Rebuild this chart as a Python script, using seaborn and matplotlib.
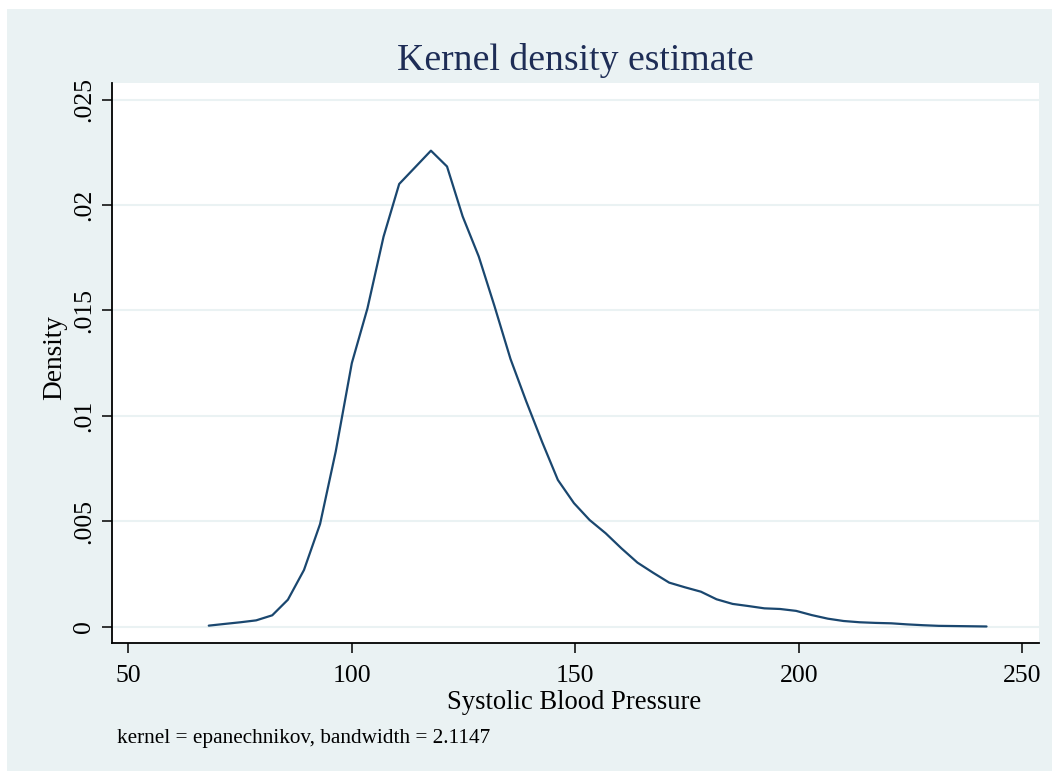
import numpy as np
import pandas as pd
import seaborn as sns
import matplotlib
matplotlib.use("Agg")
import matplotlib.pyplot as plt
from matplotlib.patches import Rectangle

# Evaluation points of the kernel density estimate (mmHg)
sbp = [68.0, 71.5, 75.1, 78.6, 82.2, 85.7, 89.3, 92.9, 96.4, 100.0,
       103.5, 107.1, 110.6, 114.2, 117.7, 121.3, 124.8, 128.4, 131.9, 135.5,
       139.0, 142.6, 146.1, 149.7, 153.2, 156.8, 160.3, 163.9, 167.4, 171.0,
       174.5, 178.1, 181.6, 185.2, 188.7, 192.3, 195.8, 199.4, 202.9, 206.5,
       210.0, 213.6, 217.1, 220.7, 224.2, 227.8, 231.3, 234.9, 238.4, 242.0]

# Estimated density at each point
density = [0.00005, 0.00013, 0.00021, 0.00030, 0.00054, 0.00128, 0.00269, 0.00487, 0.00831, 0.01250,
           0.01510, 0.01850, 0.02100, 0.02180, 0.02258, 0.02183, 0.01946, 0.01756, 0.01522, 0.01270,
           0.01070, 0.00875, 0.00696, 0.00586, 0.00506, 0.00443, 0.00372, 0.00304, 0.00256, 0.00209,
           0.00187, 0.00166, 0.00130, 0.00108, 0.00098, 0.00087, 0.00084, 0.00075, 0.00055, 0.00038,
           0.00027, 0.00021, 0.00018, 0.00016, 0.00011, 0.00007, 0.00004, 0.00003, 0.00002, 0.00001]

x_ticks = [50, 100, 150, 200, 250]
x_tick_labels = ["50", "100", "150", "200", "250"]
y_ticks = [0, 0.005, 0.01, 0.015, 0.02, 0.025]
y_tick_labels = ["0", ".005", ".01", ".015", ".02", ".025"]

title_text = "Kernel density estimate"
x_label = "Systolic Blood Pressure"
y_label = "Density"
note_text = "kernel = epanechnikov, bandwidth = 2.1147"

BG = "#eaf2f3"
LINE = "#1a476f"
TITLE_C = "#1e2d56"

sns.set_theme(style="white")
plt.rcParams["font.family"] = ["Liberation Serif", "DejaVu Serif"]

W, H = 1052, 771
fig = plt.figure(figsize=(W / 100, H / 100), dpi=100, facecolor="white")

# outer graph region
fig.patches.append(Rectangle((7 / W, 0), 1 - 7 / W, 1 - 9 / H, transform=fig.transFigure,
                             facecolor=BG, edgecolor="none", zorder=-10))

ax = fig.add_axes([112 / W, 1 - 643.3 / H, (1038.7 - 112) / W, (643.3 - 83) / H])
ax.set_facecolor("white")

df = pd.DataFrame({"sbp": sbp, "density": density})
sns.lineplot(data=df, x="sbp", y="density", ax=ax, color=LINE, linewidth=1.6,
             sort=False, estimator=None)

ax.set_xlim(46.35, 253.67)
ax.set_ylim(-0.000788, 0.02579)

ax.set_xticks(x_ticks)
ax.set_xticklabels(x_tick_labels)
ax.set_yticks(y_ticks)
ax.set_yticklabels(y_tick_labels)

for yv in y_ticks:
    ax.axhline(yv, color=BG, linewidth=1.5, zorder=0)

for side in ["top", "right"]:
    ax.spines[side].set_visible(False)
for side in ["left", "bottom"]:
    ax.spines[side].set_color("black")
    ax.spines[side].set_linewidth(1.3)

ax.tick_params(axis="both", which="major", direction="out", length=7.5, width=1.1,
               color="black", labelcolor="black", labelsize=18.5, bottom=True, left=True)
ax.tick_params(axis="x", pad=8)
ax.tick_params(axis="y", pad=4.5)
for lab in ax.get_yticklabels():
    lab.set_rotation(90)
    lab.set_va("center")
    lab.set_ha("right")

ax.set_xlabel("")
ax.set_ylabel("")

fig.text(575 / W, 1 - 70 / H, title_text, ha="center", va="baseline",
         fontsize=27.2, color=TITLE_C)
fig.text(574.5 / W, 1 - 709.3 / H, x_label, ha="center", va="baseline",
         fontsize=19.2, color="black")
fig.text(61.5 / W, 1 - 358 / H, y_label, ha="center", va="baseline", rotation=90,
         rotation_mode="anchor", fontsize=19.6, color="black")
fig.text(117 / W, 1 - 743.3 / H, note_text, ha="left", va="baseline",
         fontsize=15.3, color="black")

fig.savefig("out.png", dpi=100, facecolor="white")
